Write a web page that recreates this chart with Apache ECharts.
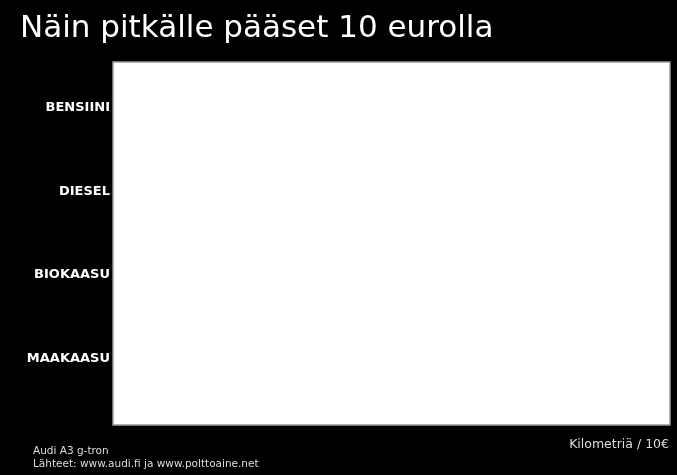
<!DOCTYPE html>
<html>
<head>
<meta charset="utf-8">
<script src="https://cdn.jsdelivr.net/npm/echarts@6/dist/echarts.min.js"></script>
<style>
html, body { margin: 0; padding: 0; background: #000; }
#main { width: 677px; height: 475px; }
</style>
</head>
<body>
<div id="main"></div>
<script>
// fuel types, top to bottom
var categories = ['BENSIINI', 'DIESEL', 'BIOKAASU', 'MAAKAASU'];
// km per 10 euros -- no bars are drawn in the picture, so nothing to read
var kmPer10 = [null, null, null, null];

var myChart = echarts.init(document.getElementById('main'));
var option = {
    backgroundColor: '#000',
    animation: false,
    title: [
        {
            text: 'Näin pitkälle pääset 10 eurolla',
            left: 15,
            top: 8,
            textStyle: { color: '#fff', fontFamily: 'DejaVu Sans', fontWeight: 'normal', fontSize: 31 }
        },
        {
            text: 'Kilometriä / 10€',
            right: 3,
            top: 433,
            textStyle: { color: '#ddd', fontFamily: 'DejaVu Sans', fontWeight: 'normal', fontSize: 12.5 }
        },
        {
            text: 'Audi A3 g-tron\nLähteet: www.audi.fi ja www.polttoaine.net',
            left: 28,
            top: 440,
            textStyle: { color: '#ddd', fontFamily: 'DejaVu Sans', fontWeight: 'normal', fontSize: 10.5, lineHeight: 13 }
        }
    ],
    grid: [
        { left: 113, top: 62, right: 7, bottom: 50, show: true, backgroundColor: '#fff', borderColor: '#999', borderWidth: 1.5 },
        { left: 113, top: 66, right: 7, height: 334 }
    ],
    xAxis: [
        { gridIndex: 0, type: 'value', show: false },
        { gridIndex: 1, type: 'value', show: false, min: 0, max: 500 }
    ],
    yAxis: [
        { gridIndex: 0, type: 'value', show: false },
        {
            gridIndex: 1,
            type: 'category',
            inverse: true,
            data: categories,
            axisLine: { show: false },
            axisTick: { show: false },
            axisLabel: { color: '#fff', fontFamily: 'DejaVu Sans', fontWeight: 'bold', fontSize: 13, margin: 3 }
        }
    ],
    series: [
        {
            type: 'bar',
            xAxisIndex: 1,
            yAxisIndex: 1,
            data: kmPer10,
            itemStyle: { color: '#1f77b4' }
        }
    ]
};
myChart.setOption(option);
</script>
</body>
</html>
